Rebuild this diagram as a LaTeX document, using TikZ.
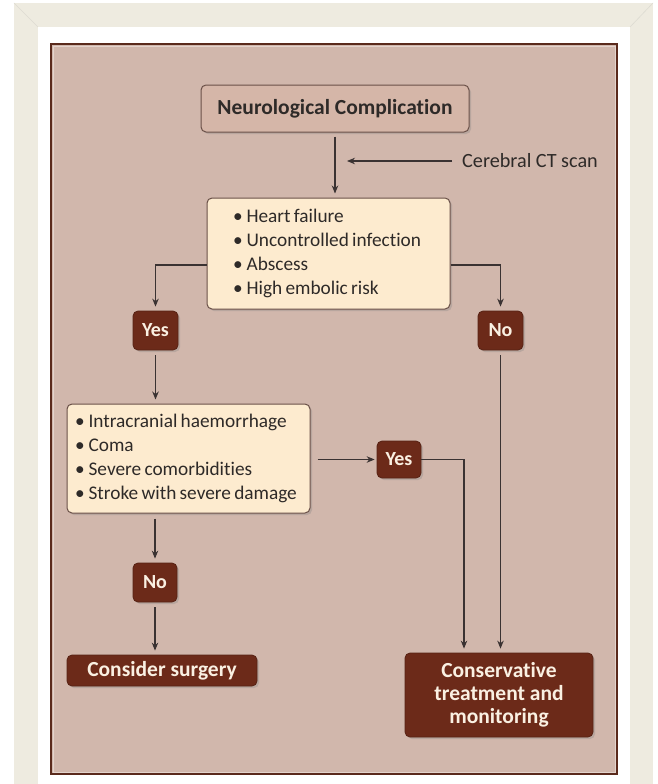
\documentclass[tikz,border=0pt]{standalone}
\usepackage{fontspec}
\setmainfont{Carlito}[Ligatures=NoCommon]
\usetikzlibrary{arrows.meta,shadows,calc}
\definecolor{framebeige}{HTML}{EEEBE0}
\definecolor{panelfill}{HTML}{D1B7AC}
\definecolor{panelline}{HTML}{5A2A1C}
\definecolor{ncfill}{HTML}{D5B6A8}
\definecolor{boxline}{HTML}{6A5048}
\definecolor{creamfill}{HTML}{FDEBCF}
\definecolor{darkboxfill}{HTML}{6C2A19}
\definecolor{lighttext}{HTML}{FAF0E2}
\definecolor{arrowcol}{HTML}{3A3232}
\definecolor{textcol}{HTML}{2E2A28}
\newcommand{\itemline}[2]{\hspace*{#1}•\hspace{4pt}{\spaceskip=0.17em\relax #2}}
\begin{document}
\begin{tikzpicture}[x=1pt,y=-1pt,
 base/.style={rounded corners=5pt, inner sep=0pt, drop shadow={opacity=0.3,shadow xshift=2pt,shadow yshift=-2pt}},
 ncbox/.style={base, draw=boxline, line width=1pt, fill=ncfill, font=\fontsize{21.5}{24}\selectfont\bfseries, text=textcol},
 listbox/.style={base, draw=boxline, line width=1pt, fill=creamfill, font=\fontsize{19.3}{24}\selectfont, text=textcol, align=left, text width=243pt},
 darkbox/.style={base, draw=darkboxfill!80!black, line width=0.8pt, fill=darkboxfill, text=lighttext, font=\fontsize{21.5}{23}\selectfont\bfseries, align=center},
 smalldark/.style={darkbox, font=\fontsize{20}{23}\selectfont\bfseries},
 conn/.style={draw=arrowcol, line width=1.1pt},
 arr/.style={conn, -{Stealth[length=8pt,width=6.5pt]}, shorten >=4pt},
]
\useasboundingbox (0,0) rectangle (657,784);
\fill[white] (0,0) rectangle (657,784);
\fill[framebeige] (14,3) rectangle (653,784);
\fill[white] (38,27) rectangle (630,784);
\draw[framebeige!85!gray, line width=0.6pt] (14,3) -- (38,27) (653,3) -- (630,27);
\fill[panelfill] (50,43) rectangle (618,775);
\draw[panelline, line width=2pt] (51,44) rectangle (617,774);
\draw[panelfill!60!white, line width=0.8pt] (53,46) rectangle (615,772);

\node[ncbox, minimum width=268pt, minimum height=47pt] (nc) at (335,108.5) {Neurological Complication};
\node[anchor=west, inner sep=0pt, font=\fontsize{20.2}{24}\selectfont, text=textcol] (ct) at (462,161) {Cerebral CT scan};
\coordinate (ctend) at (347,161);

\node[listbox, minimum height=111pt] (box1) at (328.5,253.5) {%
\itemline{26pt}{Heart failure}\\
\itemline{26pt}{Uncontrolled infection}\\
\itemline{26pt}{Abscess}\\
\itemline{26pt}{High embolic risk}};

\node[listbox, minimum height=109pt] (box2) at (188.5,458.5) {%
\itemline{8pt}{Intracranial haemorrhage}\\
\itemline{8pt}{Coma}\\
\itemline{8pt}{Severe comorbidities}\\
\itemline{8pt}{Stroke with severe damage}};

\node[smalldark, minimum width=45pt, minimum height=39pt] (yes1) at (155.5,330.5) {Yes};
\node[smalldark, minimum width=45pt, minimum height=39pt] (no1) at (500.5,330.5) {No};
\node[smalldark, minimum width=44pt, minimum height=37pt] (yes2) at (399,459.5) {Yes};
\node[smalldark, minimum width=44pt, minimum height=39pt] (no2) at (155,582.5) {No};
\node[darkbox, minimum width=190pt, minimum height=31pt] (cs) at (162,670.5) {Consider surgery};
\node[darkbox, minimum width=188pt, minimum height=84pt] (cons) at (499,695) {Conservative\\treatment and\\monitoring};

\draw[arr, shorten <=4pt] (nc.south) -- (nc.south |- box1.north);
\draw[arr, shorten >=0pt] ($(ct.west)+(-10,0)$) -- (ctend);
\draw[arr] ($(box1.west)+(0,11.5)$) -| (yes1.north);
\draw[arr] ($(box1.east)+(0,11.5)$) -| (no1.north);
\draw[arr, shorten <=5pt] (yes1.south) -- (yes1.south |- box2.north);
\draw[arr, shorten <=7pt, shorten >=2pt] (box2.east |- yes2.west) -- (yes2.west);
\draw[arr] (yes2.east) -| ($(cons.north)+(-35,0)$);
\draw[arr, shorten <=5pt] (no1.south) -- (no1.south |- cons.north);
\draw[arr, shorten <=5pt] (no2.north |- box2.south) -- (no2.north);
\draw[arr, shorten <=5pt] (no2.south) -- (no2.south |- cs.north);
\end{tikzpicture}
\end{document}
